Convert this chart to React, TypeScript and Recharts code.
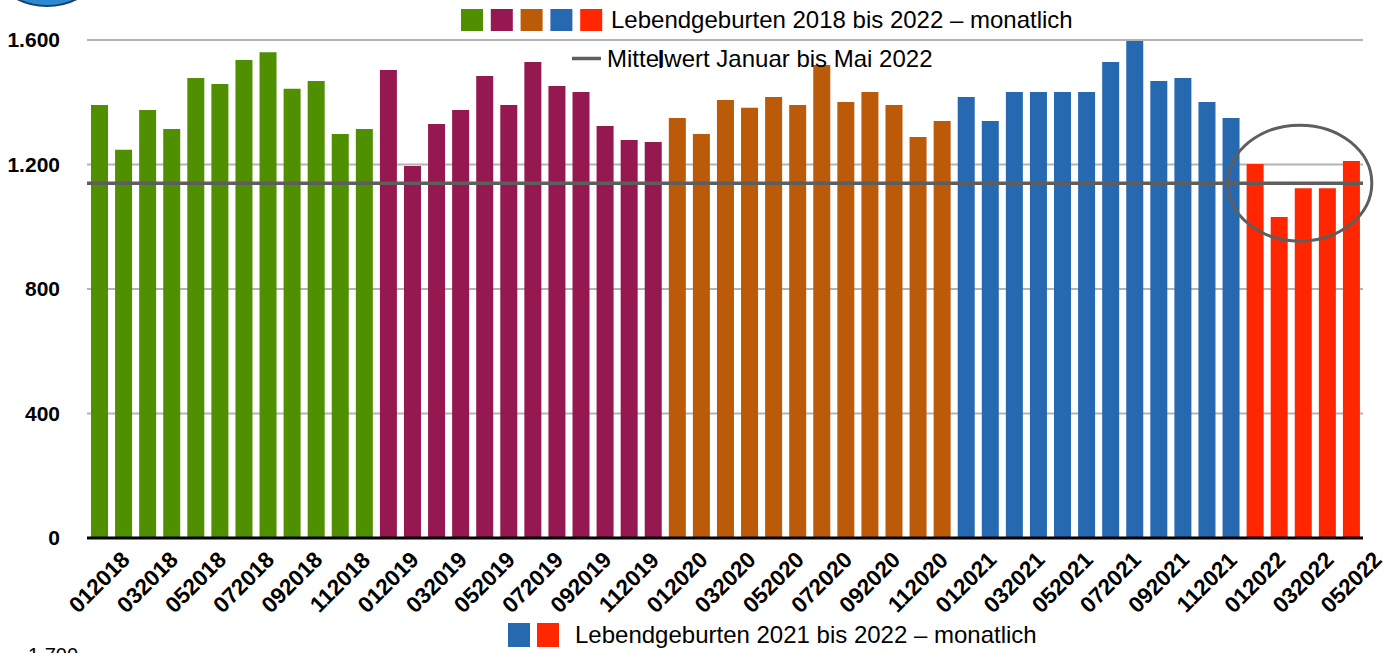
import React from 'react';
import {
  BarChart,
  Bar,
  Cell,
  XAxis,
  YAxis,
  CartesianGrid,
  ReferenceLine,
  ReferenceDot,
} from 'recharts';

const YEARS = ['2018', '2019', '2020', '2021', '2022'];
const YEAR_COLORS = ['#4F8F00', '#961850', '#BB5A09', '#2669B1', '#FF2600'];

const MONTHS = ['01', '02', '03', '04', '05', '06', '07', '08', '09', '10', '11', '12'];

const BIRTHS_2018 = [1391, 1247, 1375, 1314, 1478, 1459, 1536, 1561, 1443, 1468, 1298, 1314];
const BIRTHS_2019 = [1504, 1195, 1330, 1375, 1484, 1391, 1529, 1452, 1433, 1324, 1279, 1272];
const BIRTHS_2020 = [1349, 1298, 1407, 1382, 1417, 1391, 1520, 1401, 1433, 1391, 1288, 1340];
const BIRTHS_2021 = [1417, 1340, 1433, 1433, 1433, 1433, 1529, 1597, 1468, 1478, 1401, 1349];
const BIRTHS_2022 = [1202, 1031, 1124, 1124, 1211];

const MEAN_JAN_MAY_2022 = 1140;

const Y_TICKS = [0, 400, 800, 1200, 1600];

const LEGEND_TOP_TEXT = 'Lebendgeburten 2018 bis 2022 – monatlich';
const LEGEND_MEAN_TEXT = 'Mittelwert Januar bis Mai 2022';
const LEGEND_BOTTOM_TEXT = 'Lebendgeburten 2021 bis 2022 – monatlich';
const LEGEND_BOTTOM_COLORS = ['#2669B1', '#FF2600'];
const CUT_LABEL = '1.700';

const SERIES = [BIRTHS_2018, BIRTHS_2019, BIRTHS_2020, BIRTHS_2021, BIRTHS_2022];

const data = SERIES.flatMap((vals, yi) =>
  vals.map((v, mi) => ({
    month: MONTHS[mi] + YEARS[yi],
    value: v,
    color: YEAR_COLORS[yi],
  }))
);

const fmt = (v: number) => String(v).replace(/\B(?=(\d{3})+(?!\d))/g, '.');

const FONT = '"Liberation Sans", Arial, Helvetica, sans-serif';

const XTick = (props: any) => {
  const { x, y, payload } = props;
  const cy = y + 36;
  return (
    <text
      x={x}
      y={cy}
      dy="0.355em"
      textAnchor="middle"
      transform={`rotate(-45 ${x} ${cy})`}
      fontSize={22.5}
      fontWeight="bold"
      fill="#000"
      fontFamily={FONT}
    >
      {payload.value}
    </text>
  );
};

const EllipseShape = (props: any) => {
  const { cx, cy } = props;
  if (cx == null || cy == null) return null;
  return <ellipse cx={cx - 3} cy={cy} rx={72} ry={58} fill="none" stroke="#5E5E5E" strokeWidth={3} />;
};

export default function App() {
  return (
    <div
      style={{
        position: 'absolute',
        left: 0,
        top: 0,
        width: 1394,
        height: 653,
        overflow: 'hidden',
        background: '#fff',
        fontFamily: FONT,
      }}
    >
      <div style={{ position: 'absolute', left: 0, top: 0 }}>
        <BarChart
          width={1394}
          height={653}
          data={data}
          margin={{ top: 40, right: 31, bottom: 0, left: 0 }}
        >
          <CartesianGrid horizontal vertical={false} stroke="#B3B3B3" strokeWidth={2} />
          <XAxis
            dataKey="month"
            interval={1}
            height={115}
            tickLine={false}
            axisLine={{ stroke: '#000', strokeWidth: 3 }}
            tick={<XTick />}
          />
          <YAxis
            width={87}
            domain={[0, 1600]}
            ticks={Y_TICKS}
            axisLine={false}
            tickLine={false}
            tickSize={0}
            tickMargin={27}
            tickFormatter={fmt}
            tick={{ fontSize: 21, fontWeight: 'bold', fill: '#000', fontFamily: FONT }}
          />
          <Bar dataKey="value" barSize={17} isAnimationActive={false}>
            {data.map((d) => (
              <Cell key={d.month} fill={d.color} />
            ))}
          </Bar>
          <ReferenceLine y={MEAN_JAN_MAY_2022} stroke="#5E5E5E" strokeWidth={3.5} />
          <ReferenceDot
            x="032022"
            y={MEAN_JAN_MAY_2022}
            r={0}
            ifOverflow="visible"
            shape={<EllipseShape />}
          />
        </BarChart>
      </div>
      <svg
        width={1394}
        height={653}
        style={{ position: 'absolute', left: 0, top: 0, pointerEvents: 'none' }}
      >
        <circle cx={47} cy={-60} r={66} fill="#2A8BD3" stroke="#1D3F6A" strokeWidth={2} />
        {YEAR_COLORS.map((c, i) => (
          <rect key={c} x={461 + i * 29.8} y={9} width={22} height={22} fill={c} />
        ))}
        <text x={611} y={28} fontSize={24} fill="#000" fontFamily={FONT}>
          {LEGEND_TOP_TEXT}
        </text>
        <line x1={572} x2={601} y1={58.5} y2={58.5} stroke="#5E5E5E" strokeWidth={3.5} />
        <text x={607} y={67} fontSize={24} fill="#000" fontFamily={FONT}>
          {LEGEND_MEAN_TEXT}
        </text>
        <rect x={659.5} y={50} width={2.5} height={18} fill="#000" />
        {LEGEND_BOTTOM_COLORS.map((c, i) => (
          <rect key={c} x={508 + i * 29} y={623} width={22} height={24} fill={c} />
        ))}
        <text x={575} y={643} fontSize={24} fill="#000" fontFamily={FONT}>
          {LEGEND_BOTTOM_TEXT}
        </text>
        <text x={28} y={662} fontSize={20} fill="#000" fontFamily={FONT}>
          {CUT_LABEL}
        </text>
      </svg>
    </div>
  );
}
